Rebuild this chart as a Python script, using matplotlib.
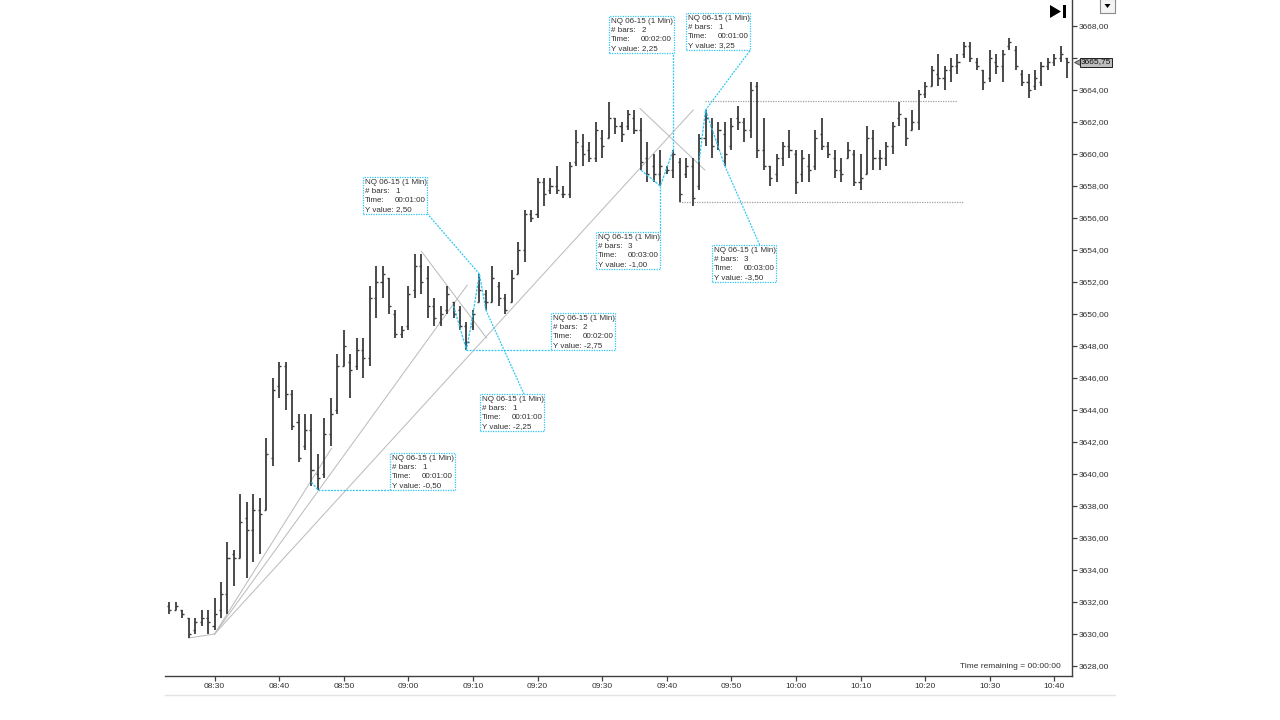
import matplotlib
matplotlib.use('Agg')
import matplotlib.pyplot as plt
import numpy as np
from matplotlib.patches import Rectangle, Polygon
from matplotlib.lines import Line2D
from matplotlib.transforms import ScaledTranslation

plt.rc('font', family=['Liberation Sans', 'DejaVu Sans'])
FS = 6.0
FS_BOX = 5.8
CYAN = '#2cc6f5'
BAR = '#3c3c3c'
FAN = '#bdbdbd'
TXT = '#303030'

# NQ 06-15, 1 minute bars from 08:23
start_time = '08:23'
opens = [3631.75, 3631.50, 3631.50, 3631.00, 3630.25, 3630.75, 3631.00, 3630.50, 3631.50, 3632.50,
         3635.00, 3634.75, 3637.25, 3636.50, 3637.75, 3637.75, 3641.00, 3645.50, 3646.75, 3645.00,
         3643.25, 3641.75, 3642.75, 3640.00, 3640.00, 3642.50, 3644.00, 3646.75, 3647.00, 3646.75,
         3647.75, 3647.25, 3651.00, 3652.00, 3652.25, 3650.00, 3648.75, 3649.25, 3651.50, 3653.00,
         3652.25, 3650.50, 3649.50, 3650.25, 3650.75, 3650.25, 3649.25, 3649.25, 3650.75, 3651.25,
         3650.75, 3651.75, 3651.00, 3650.75, 3652.50, 3654.00, 3656.25, 3656.25, 3658.25, 3657.75,
         3658.00, 3657.50, 3657.50, 3659.50, 3660.50, 3660.25, 3659.75, 3661.00, 3661.00, 3662.25,
         3661.75, 3661.75, 3662.25, 3661.50, 3659.75, 3659.25, 3658.75, 3659.00, 3659.00, 3659.50,
         3658.75, 3659.25, 3658.00, 3661.00, 3661.75, 3660.75, 3661.25, 3660.50, 3662.25, 3662.00,
         3661.50, 3664.25, 3660.25, 3659.25, 3658.75, 3659.75, 3660.50, 3660.00, 3658.75, 3659.25,
         3659.25, 3661.25, 3660.50, 3659.75, 3659.00, 3659.75, 3660.00, 3658.25, 3658.75, 3661.00,
         3659.75, 3659.75, 3660.50, 3662.25, 3662.25, 3661.50, 3662.00, 3663.75, 3664.25, 3665.00,
         3664.75, 3665.25, 3665.50, 3666.25, 3666.75, 3665.75, 3665.25, 3664.75, 3665.75, 3665.50,
         3666.75, 3666.50, 3665.00, 3664.50, 3664.25, 3664.50, 3665.50, 3665.75, 3666.00, 3666.00]
highs = [3632.00, 3632.00, 3631.50, 3631.00, 3631.00, 3631.50, 3631.50, 3632.25, 3633.25, 3635.75,
         3635.25, 3638.75, 3638.25, 3638.75, 3638.50, 3642.25, 3646.00, 3647.00, 3647.00, 3645.25,
         3643.75, 3643.75, 3643.75, 3641.25, 3643.50, 3644.75, 3647.50, 3649.00, 3647.50, 3648.50,
         3648.50, 3651.75, 3653.00, 3653.00, 3652.25, 3650.25, 3649.25, 3651.75, 3653.75, 3653.75,
         3653.00, 3651.00, 3650.50, 3651.75, 3650.75, 3650.50, 3649.50, 3650.25, 3652.50, 3651.50,
         3653.00, 3652.00, 3651.25, 3652.75, 3654.50, 3656.50, 3656.50, 3658.50, 3658.50, 3658.50,
         3659.25, 3658.00, 3659.50, 3661.50, 3661.25, 3660.75, 3662.00, 3661.50, 3663.25, 3662.25,
         3662.00, 3662.75, 3662.75, 3662.25, 3660.75, 3660.00, 3660.25, 3659.25, 3660.25, 3659.75,
         3659.75, 3659.75, 3661.25, 3662.75, 3662.25, 3662.00, 3662.00, 3662.25, 3663.00, 3662.25,
         3664.50, 3664.50, 3662.25, 3659.25, 3660.00, 3660.75, 3661.50, 3660.25, 3660.25, 3660.00,
         3661.50, 3662.25, 3660.75, 3660.25, 3659.75, 3660.75, 3660.25, 3660.00, 3661.75, 3661.50,
         3660.25, 3660.75, 3662.00, 3663.25, 3662.25, 3662.75, 3664.00, 3664.50, 3665.50, 3666.25,
         3665.50, 3666.00, 3666.25, 3667.00, 3667.00, 3666.00, 3665.25, 3666.50, 3666.25, 3666.50,
         3667.25, 3666.75, 3665.25, 3665.00, 3665.25, 3665.75, 3666.00, 3666.25, 3666.75, 3666.00]
lows = [3631.25, 3631.50, 3631.00, 3629.75, 3630.00, 3630.50, 3630.00, 3630.25, 3631.00, 3631.25,
        3633.00, 3634.75, 3633.50, 3634.50, 3635.00, 3637.75, 3640.50, 3644.75, 3644.00, 3642.75,
        3640.75, 3641.50, 3639.25, 3639.00, 3639.75, 3641.75, 3643.75, 3646.75, 3644.75, 3646.50,
        3646.00, 3646.75, 3649.75, 3651.00, 3650.00, 3648.50, 3648.50, 3649.00, 3651.00, 3651.25,
        3649.75, 3649.25, 3649.25, 3650.00, 3649.75, 3649.00, 3647.75, 3649.00, 3650.75, 3650.25,
        3650.75, 3650.50, 3650.00, 3650.75, 3652.50, 3653.25, 3655.75, 3656.00, 3656.75, 3657.50,
        3657.50, 3657.25, 3657.25, 3659.25, 3659.25, 3659.50, 3659.50, 3659.75, 3661.00, 3661.25,
        3660.75, 3661.50, 3661.25, 3659.00, 3658.25, 3658.25, 3658.00, 3658.75, 3658.50, 3657.00,
        3658.50, 3656.75, 3657.75, 3660.50, 3659.75, 3660.25, 3659.25, 3660.25, 3661.50, 3660.75,
        3661.00, 3659.75, 3659.00, 3658.00, 3658.25, 3659.25, 3659.75, 3657.50, 3658.25, 3658.25,
        3659.00, 3660.25, 3659.75, 3658.50, 3658.25, 3659.75, 3658.00, 3657.75, 3658.75, 3659.00,
        3659.00, 3659.25, 3660.00, 3661.75, 3660.50, 3661.50, 3661.50, 3663.50, 3664.25, 3664.25,
        3664.00, 3664.50, 3665.00, 3666.00, 3665.75, 3665.25, 3664.00, 3664.50, 3665.00, 3664.50,
        3666.50, 3665.25, 3664.25, 3663.50, 3664.00, 3664.25, 3665.25, 3665.50, 3665.75, 3664.75]
closes = [3631.50, 3631.75, 3631.25, 3630.00, 3630.75, 3631.00, 3630.75, 3631.25, 3632.50, 3634.75,
          3634.75, 3637.00, 3636.50, 3637.75, 3637.50, 3641.25, 3645.25, 3646.75, 3645.00, 3643.00,
          3641.00, 3642.75, 3640.25, 3639.75, 3642.50, 3643.75, 3646.75, 3648.00, 3646.50, 3647.75,
          3647.25, 3651.00, 3652.00, 3652.50, 3650.50, 3648.75, 3649.00, 3651.25, 3653.00, 3652.00,
          3650.50, 3649.75, 3650.00, 3651.25, 3650.00, 3649.25, 3648.25, 3650.00, 3651.50, 3650.75,
          3652.25, 3651.00, 3650.25, 3652.25, 3654.00, 3656.25, 3656.00, 3658.25, 3657.50, 3658.00,
          3657.75, 3657.50, 3659.25, 3660.75, 3660.00, 3659.75, 3661.50, 3660.50, 3662.25, 3661.75,
          3661.25, 3662.50, 3661.50, 3659.50, 3658.75, 3658.75, 3659.25, 3659.00, 3660.00, 3657.50,
          3659.25, 3657.25, 3661.00, 3662.25, 3660.50, 3661.50, 3660.00, 3661.75, 3662.00, 3661.50,
          3664.00, 3660.25, 3659.25, 3658.50, 3659.75, 3660.50, 3660.25, 3658.25, 3659.75, 3659.00,
          3661.00, 3660.50, 3660.00, 3659.00, 3658.75, 3660.25, 3658.25, 3658.50, 3661.00, 3659.75,
          3659.75, 3660.50, 3661.75, 3662.50, 3661.00, 3662.00, 3663.75, 3664.25, 3665.25, 3664.75,
          3665.25, 3665.50, 3665.75, 3666.75, 3666.00, 3665.50, 3664.50, 3666.00, 3665.50, 3666.25,
          3667.00, 3665.50, 3664.50, 3664.00, 3664.75, 3665.50, 3665.75, 3666.00, 3666.25, 3665.75]

tick_labels = ['08:30', '08:40', '08:50', '09:00', '09:10', '09:20', '09:30',
               '09:40', '09:50', '10:00', '10:10', '10:20', '10:30', '10:40']
price_ticks = np.arange(3628, 3669, 2)

# drawing tools: gray trend lines (bar index, price)
fan_origin = (7, 3630.00)
fan_base = (3, 3629.75)
fan_ends = [(25.1, 3641.60), (46.1, 3651.80), (81.1, 3662.75)]
cross_lines = [((39.05, 3653.90), (49.1, 3648.50)), ((72.85, 3662.85), (82.9, 3659.00))]
hlines_dotted = [(78.9, 122.9, 3657.00), (82.9, 121.9, 3663.30)]

# ruler measurements: polylines through bars
rulers = [[(22, 3639.50), (23, 3639.00)],
          [(44, 3650.50), (46, 3647.75), (47, 3650.00), (48, 3652.50), (49, 3650.25)],
          [(73, 3659.00), (76, 3658.00), (78, 3660.25)],
          [(82, 3659.50), (83, 3662.75), (86, 3659.25)]]
# info boxes: bars, y value, box top-left, leader start, leader end
box_bars = [1, 2, 1, 1, 3, 2, 1, 3]
box_dy = [2.50, -2.75, -2.25, -0.50, -1.00, 2.25, 3.25, -3.50]
box_pos = [(30.0, 3658.56), (59.1, 3650.05), (48.1, 3645.00), (34.2, 3641.30),
           (66.05, 3655.12), (68.1, 3668.62), (80.0, 3668.80), (84.0, 3654.31)]
box_lead = [((48, 3652.50), (39.95, 3656.26)), ((46, 3647.75), (59.1, 3647.75)),
            ((49, 3650.25), (54.9, 3645.00)), ((23, 3639.00), (34.2, 3639.00)),
            ((76, 3658.00), (76.0, 3655.12)), ((78, 3660.25), (78.0, 3666.32)),
            ((83, 3662.75), (89.95, 3666.50)), ((86, 3659.25), (91.4, 3654.31))]
BOX_W = 9.95
BOX_H = 2.31
LINE_PT = 6.5


def hm(s):
    h, m = s.split(':')
    return int(h) * 60 + int(m)


def info_box(ax, pos, nbars, dy):
    x0, ytop = pos
    ax.add_patch(Rectangle((x0, ytop - BOX_H), BOX_W, BOX_H, fc='white', ec=CYAN,
                           ls=(0, (1, 1)), lw=0.9, zorder=6))
    yv = '{:.2f}'.format(dy).replace('.', ',')
    rows = [('NQ 06-15 (1 Min)', None), ('# bars:', str(nbars)),
            ('Time:', '00:{:02d}:00'.format(nbars)), ('Y value: ' + yv, None)]
    for i, (lab, val) in enumerate(rows):
        yo = -1.2 - i * LINE_PT
        ax.annotate(lab, xy=(x0, ytop), xytext=(1.2, yo), textcoords='offset points',
                    ha='left', va='top', fontsize=FS_BOX, color=TXT, zorder=7)
        if val is not None:
            ax.annotate(val, xy=(x0, ytop), xytext=(23.0, yo), textcoords='offset points',
                        ha='left', va='top', fontsize=FS_BOX, color=TXT, zorder=7)


if __name__ == '__main__':
    fig = plt.figure(figsize=(12.8, 7.2), dpi=100)
    ax = fig.add_axes([165 / 1280, 44 / 720, 907 / 1280, 676 / 720])

    n = len(highs)
    x = np.arange(n)
    ax.vlines(x, lows, highs, color=BAR, lw=1.3, zorder=3)
    ax.hlines(opens, x - 0.32, x, color=BAR, lw=1.0, zorder=3)
    ax.hlines(closes, x, x + 0.32, color=BAR, lw=1.0, zorder=3)

    # gray drawing tools
    ax.plot([fan_base[0], fan_origin[0]], [fan_base[1], fan_origin[1]], color=FAN, lw=0.75, zorder=2)
    for ex, ey in fan_ends:
        ax.plot([fan_origin[0], ex], [fan_origin[1], ey], color=FAN, lw=0.75, zorder=2)
    for (ax0, ay0), (ax1, ay1) in cross_lines:
        ax.plot([ax0, ax1], [ay0, ay1], color=FAN, lw=0.75, zorder=2)
    for hx0, hx1, hy in hlines_dotted:
        ax.plot([hx0, hx1], [hy, hy], color='#a0a0a0', lw=0.9, ls=(0, (1, 1)), zorder=2)

    # rulers and info boxes
    for r in rulers:
        rx, ry = zip(*r)
        ax.plot(rx, ry, color=CYAN, lw=0.9, ls=(0, (2, 1)), zorder=5)
    for (p0, p1) in box_lead:
        ax.plot([p0[0], p1[0]], [p0[1], p1[1]], color=CYAN, lw=0.9, ls=(0, (1.5, 1)), zorder=5)
    for pos, nb, dy in zip(box_pos, box_bars, box_dy):
        info_box(ax, pos, nb, dy)

    # axes
    ax.set_xlim(-0.67, 139.73)
    ax.set_ylim(3627.375, 3669.625)
    t0 = hm(start_time)
    ax.set_xticks([hm(t) - t0 for t in tick_labels])
    ax.set_xticklabels(tick_labels)
    ax.yaxis.tick_right()
    ax.set_yticks(price_ticks)
    ylabels = ['{:.2f}'.format(v).replace('.', ',') for v in price_ticks]
    ylabels[list(price_ticks).index(3666)] = ''
    ax.set_yticklabels(ylabels)
    ax.tick_params(axis='both', labelsize=FS, colors='#404040', labelcolor=TXT,
                   length=3.5, width=0.9, pad=1.5)
    for s in ['top', 'left']:
        ax.spines[s].set_visible(False)
    for s in ['right', 'bottom']:
        ax.spines[s].set_color('#404040')
        ax.spines[s].set_linewidth(1.0)

    # last price marker
    last = closes[-1]
    off = ScaledTranslation(4.2 / 72, 0, fig.dpi_scale_trans)
    ax.plot([1.0], [last], marker='<', ms=5.5, color='#9c9c9c', mec='#404040', mew=0.6,
            transform=ax.get_yaxis_transform() + off, clip_on=False, zorder=8)
    ax.annotate('{:.2f}'.format(last).replace('.', ','), xy=(1.0, last),
                xycoords=ax.get_yaxis_transform(), xytext=(6.5, 0), textcoords='offset points',
                ha='left', va='center', fontsize=FS, color='#101010', annotation_clip=False,
                bbox=dict(boxstyle='square,pad=0.12', fc='#bdbdbd', ec='#202020', lw=0.7), zorder=9)

    ax.text(0.988, 0.0135, 'Time remaining = 00:00:00', transform=ax.transAxes,
            ha='right', va='center', fontsize=FS, color=TXT)

    # window chrome
    fig.add_artist(Line2D([165 / 1280, 1115 / 1280], [1 - 695 / 720] * 2,
                          color='#e4e4e4', lw=1.0))
    fig.add_artist(Polygon([(1050 / 1280, 1 - 5 / 720), (1050 / 1280, 1 - 18 / 720),
                            (1061 / 1280, 1 - 11.5 / 720)], closed=True, fc='black', ec='none'))
    fig.add_artist(Rectangle((1063 / 1280, 1 - 18 / 720), 3 / 1280, 13 / 720, fc='black', ec='none'))
    fig.add_artist(Rectangle((1100 / 1280, 1 - 13 / 720), 15 / 1280, 14 / 720,
                             fc='#f4f4f4', ec='#8a8a8a', lw=0.8))
    fig.add_artist(Polygon([(1104.5 / 1280, 1 - 4 / 720), (1110.5 / 1280, 1 - 4 / 720),
                            (1107.5 / 1280, 1 - 8 / 720)], closed=True, fc='black', ec='none'))

    fig.savefig('out.png', dpi=100)
    plt.close()
